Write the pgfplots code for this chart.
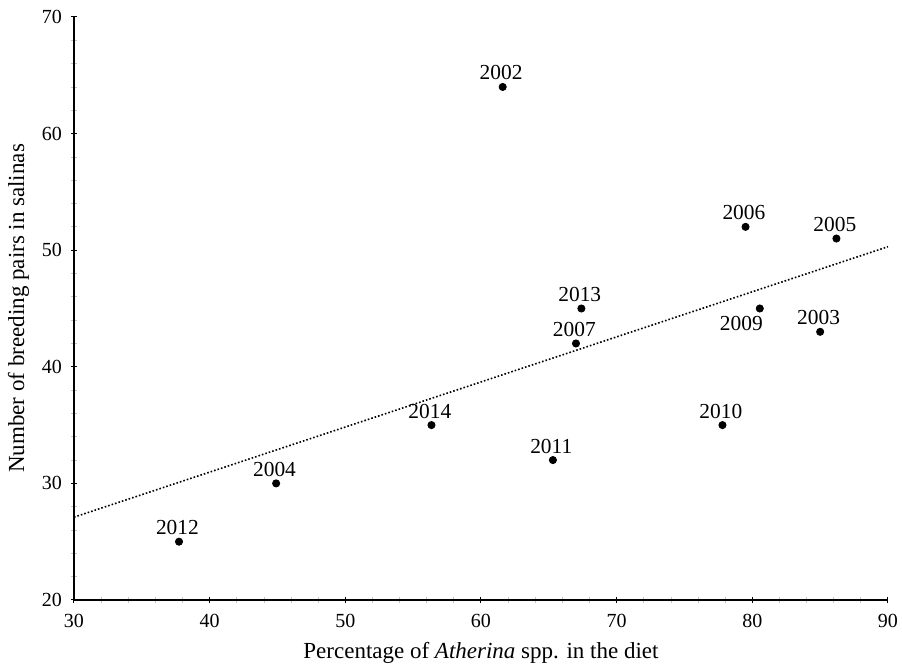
\documentclass[border=0pt]{standalone}
\usepackage{pgfplots}
\usepackage{pgfplotstable}
\pgfplotsset{compat=1.18}
\usepackage{fontspec}
\setmainfont{Liberation Serif}

\pgfplotstableread{
x y label
61.6 64 2002
85.0 43 2003
44.9 30 2004
86.2 51 2005
79.5 52 2006
67.0 42 2007
77.8 35 2010
65.3 32 2011
37.74 25 2012
67.4 45 2013
56.35 35 2014
}\pointdata

\pgfplotstableread{
x y label
80.55 45 2009
}\pointbelow

\pgfplotstableread{
x y
30 27.1
90 50.3
}\fitdata

\begin{document}
\fontsize{10}{12}\selectfont
\begin{tikzpicture}
\begin{axis}[
  name=ax,
  scale only axis,
  width=407pt, height=291.5pt,
  at={(0,0)}, anchor=south west,
  xmin=30, xmax=90, ymin=20, ymax=70,
  axis lines*=left,
  axis line style={black, line width=0.6pt},
  xtick={30,40,...,90},
  ytick={20,30,...,70},
  minor tick num=4,
  tick align=center,
  major tick length=3pt,
  minor tick length=3pt,
  major tick style={black, line width=0.5pt},
  minor tick style={gray!45, line width=0.4pt},
  /pgf/number format/assume math mode=true,
  tick label style={font=\fontsize{10}{12}\selectfont},
  xticklabel style={yshift=-2pt},
  yticklabel style={xshift=-1pt},
  xlabel={Percentage of \textit{Atherina} spp. in the diet},
  ylabel={Number of breeding pairs in salinas},
  label style={font=\fontsize{11.5}{13}\selectfont},
  xlabel style={yshift=-0.5pt},
  ylabel style={yshift=-0.5pt},
  clip=false,
]
\addplot[black, densely dotted, line width=0.8pt] table[x=x,y=y] {\fitdata};
\addplot[
  only marks, mark=*, mark size=1.8pt, black,
  nodes near coords,
  point meta=explicit symbolic,
  every node near coord/.append style={anchor=center, inner sep=0pt,
     xshift=-0.8pt, yshift=7pt, font=\fontsize{10.7}{12}\selectfont},
] table[x=x, y=y, meta=label] {\pointdata};
\addplot[
  only marks, mark=*, mark size=1.8pt, black,
  nodes near coords,
  point meta=explicit symbolic,
  every node near coord/.append style={anchor=center, inner sep=0pt,
     xshift=-9.2pt, yshift=-7.5pt, font=\fontsize{10.7}{12}\selectfont},
] table[x=x, y=y, meta=label] {\pointbelow};
\end{axis}
\pgfresetboundingbox
\path (-37pt,-33.5pt) rectangle (414pt,300pt);
\end{tikzpicture}
\end{document}
